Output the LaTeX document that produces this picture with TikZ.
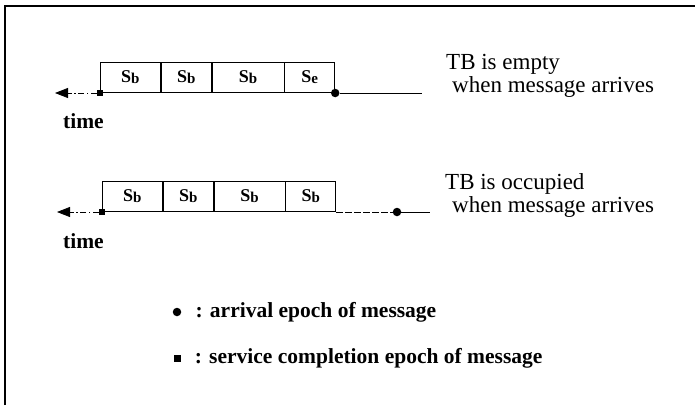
\documentclass[tikz,border=0pt]{standalone}
\usepackage{fontspec}
\setmainfont{Liberation Serif}
\usetikzlibrary{arrows.meta,positioning}
\tikzset{
  slot/.style={draw,line width=0.8pt,minimum height=30pt,inner sep=0pt,
    font=\fontsize{18}{18}\selectfont\bfseries},
  sq/.style={fill,inner sep=0pt,minimum size=6.5pt},
  dot/.style={circle,fill,inner sep=0pt,minimum size=8.5pt},
  tl/.style={line width=0.8pt,dash pattern=on 6pt off 2.5pt on 1.5pt off 2.5pt},
  lbl/.style={font=\fontsize{23}{23}\selectfont,align=left,anchor=base west,inner sep=0pt},
  key/.style={font=\fontsize{21.5}{22}\selectfont\bfseries,inner sep=0pt}
}
\newcommand{\Sb}{S\raisebox{-1pt}{\fontsize{15}{15}\selectfont b}}
\newcommand{\Se}{S\raisebox{-1pt}{\fontsize{15}{15}\selectfont e}}

\begin{document}
\begin{tikzpicture}[x=1pt,y=-1pt,node distance=0pt]
   \useasboundingbox (0,0) rectangle (695,405);
   \draw[line width=1.5pt] (5,405) -- (5,6) -- (695,6);
   % TB empty
   \node[sq] (m_1) at (100,93) {};
   \node[slot,minimum width=60pt,anchor=south west] (a_1) at (100,93) {\Sb};
   \node[slot,minimum width=50pt] (a_2) [right=of a_1] {\Sb};
   \node[slot,minimum width=72pt] (a_3) [right=of a_2] {\Sb};
   \node[slot,minimum width=50pt] (a_4) [right=of a_3] {\Se};
   \node[dot] (c_1) at (a_4.south east) {};
   \coordinate (t_1) at (55,93);
   \coordinate (e_1) at (422,93);
   \draw[tl,-{Triangle[length=13pt,width=10pt]}] (m_1) -- (t_1);
   \draw[line width=0.8pt] (c_1) -- (e_1);
   \node[lbl] (l_1) at (446,92) {TB is empty\\\hspace{6pt}when message arrives};
   \node[key,anchor=base west] (x_1) at (63,128) {time};
   % TB occupied
   \node[sq] (m_2) at (102,212) {};
   \node[slot,minimum width=60pt,anchor=south west] (b_1) at (102,212) {\Sb};
   \node[slot,minimum width=50pt] (b_2) [right=of b_1] {\Sb};
   \node[slot,minimum width=71pt] (b_3) [right=of b_2] {\Sb};
   \node[slot,minimum width=50pt] (b_4) [right=of b_3] {\Sb};
   \node[dot] (c_2) at (397,212) {};
   \coordinate (t_2) at (57,212);
   \coordinate (e_2) at (430,212);
   \draw[tl,-{Triangle[length=13pt,width=10pt]}] (m_2) -- (t_2);
   \draw[line width=0.8pt,dash pattern=on 7pt off 2pt] (b_4.south east) -- (c_2);
   \draw[line width=0.8pt] (c_2) -- (e_2);
   \node[lbl] (l_2) at (445,212) {TB is occupied\\\hspace{7pt}when message arrives};
   \node[key,anchor=base west] (x_2) at (63,248) {time};
   % legend
   \node[dot] (k_1) at (177,312) {};
   \node[sq,minimum size=7pt] (k_2) at (177,358) {};
   \node[key,anchor=west] (g_1) [right=14pt of k_1] {: arrival epoch of message};
   \node[key,anchor=west] (g_2) [right=14pt of k_2] {: service completion epoch of message};
\end{tikzpicture}
\end{document}
